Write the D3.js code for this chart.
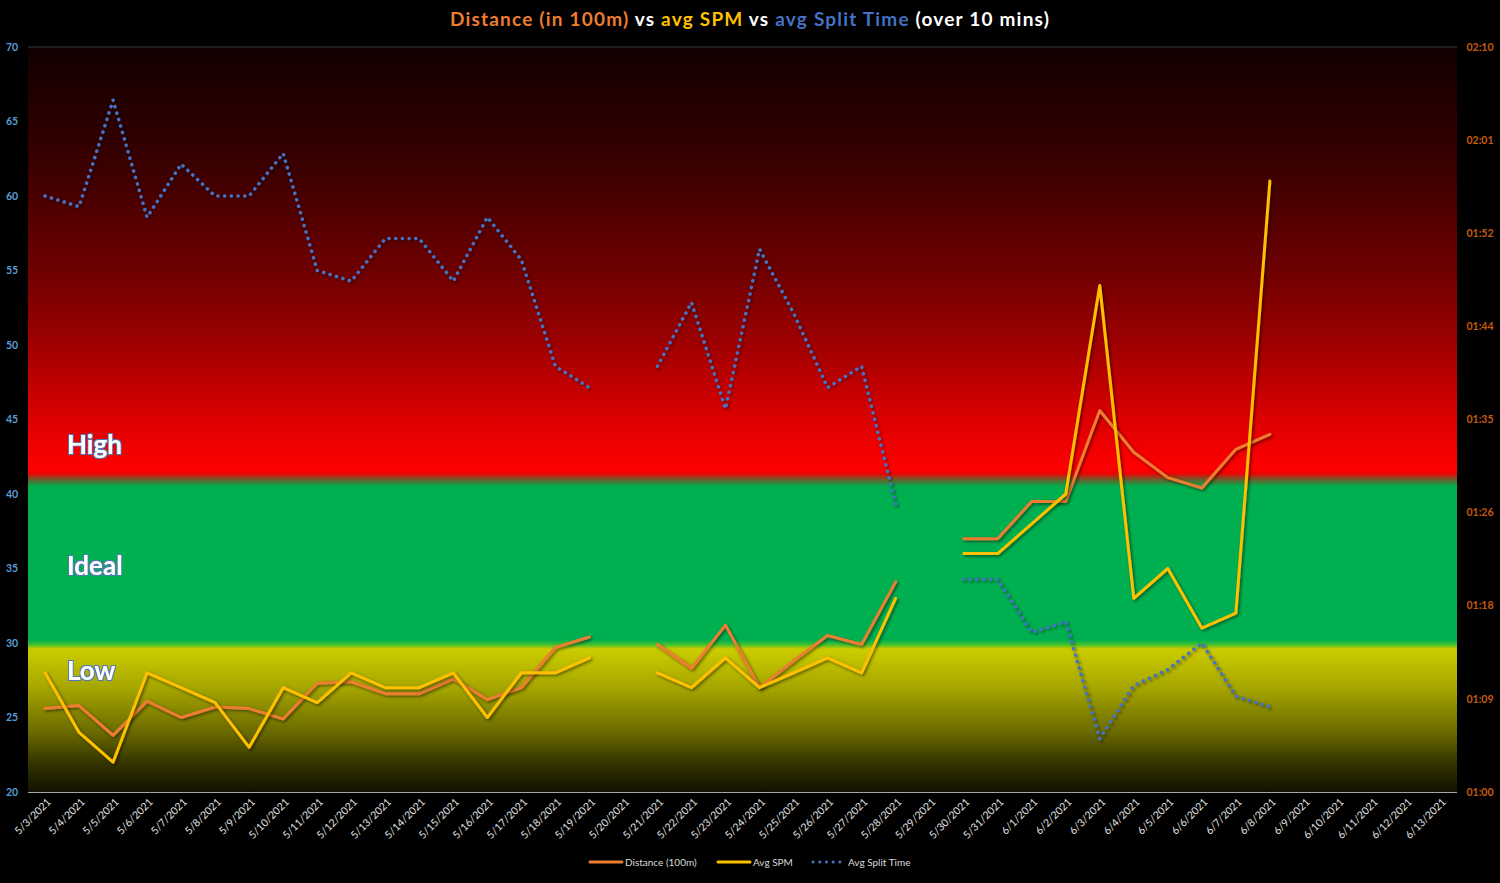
<!DOCTYPE html>
<html>
<head>
<meta charset="utf-8">
<script src="https://cdn.jsdelivr.net/npm/d3@7"></script>
<style>
  body { margin: 0; background: #000; }
  svg { display: block; font-family: Lato, "Open Sans", sans-serif; }
</style>
</head>
<body>
<div class="chart"></div>
<script>
// Categories (one per day)
const dates = ["5/3/2021","5/4/2021","5/5/2021","5/6/2021","5/7/2021","5/8/2021","5/9/2021","5/10/2021",
  "5/11/2021","5/12/2021","5/13/2021","5/14/2021","5/15/2021","5/16/2021","5/17/2021","5/18/2021",
  "5/19/2021","5/20/2021","5/21/2021","5/22/2021","5/23/2021","5/24/2021","5/25/2021","5/26/2021",
  "5/27/2021","5/28/2021","5/29/2021","5/30/2021","5/31/2021","6/1/2021","6/2/2021","6/3/2021",
  "6/4/2021","6/5/2021","6/6/2021","6/7/2021","6/8/2021","6/9/2021","6/10/2021","6/11/2021",
  "6/12/2021","6/13/2021"]

// Distance in 100m (left axis)
const distance = [25.6,25.8,23.8,26.1,25.0,25.7,25.6,24.9,27.3,27.4,26.6,26.6,27.6,26.2,27.0,29.7,
  30.4,null,29.9,28.3,31.2,27.0,28.8,30.5,29.9,34.1,null,37.0,37.0,39.5,39.5,45.6,
  42.8,41.1,40.4,43.0,44.0,null,null,null,null,null]

// Avg strokes per minute (left axis)
const spm = [28,24,22,28,27,26,23,27,26,28,27,27,28,25,28,28,
  29,null,28,27,29,27,28,29,28,33,null,36,36,38,40,54,
  33,35,31,32,61,null,null,null,null,null]

// Avg split time in seconds (right axis)
const split = [116,115,125,114,119,116,116,120,109,108,112,112,108,114,110,100,
  98,null,100,106,96,111,105,98,100,87,null,80,80,75,76,65,
  70,71.5,74,69,68,null,null,null,null,null]

const leftTicks = [20,25,30,35,40,45,50,55,60,65,70]
const rightTickLabels = ["01:00","01:09","01:18","01:26","01:35","01:44","01:52","02:01","02:10"]

// Zone labels and the left-axis value where they sit
const zoneNames = ["High","Ideal","Low"]
const zoneValues = [43.3,35.2,28.1]

const width = 1500
const height = 883
const margin = {top: 47, right: 43, bottom: 91, left: 28}

const svg = d3.select(".chart").append("svg")
  .attr("width", width)
  .attr("height", height)
  .attr("viewBox", [0, 0, width, height])

svg.append("rect").attr("width", width).attr("height", height).attr("fill", "#000")

// Scales
const x = d3.scaleBand()
  .domain(dates)
  .range([margin.left, width - margin.right])

const yL = d3.scaleLinear()
  .domain([20, 70])
  .range([height - margin.bottom, margin.top])

const yR = d3.scaleLinear()
  .domain([60, 130])
  .range([height - margin.bottom, margin.top])

const cx = d => x(d) + x.bandwidth() / 2

const defs = svg.append("defs")

// Background zones as a vertical gradient (in left-axis units)
const bgStops = [
  [70, "#110000"], [62, "#3a0000"], [55, "#6e0000"], [50, "#a00000"], [45, "#dc0000"],
  [41.7, "#ff0000"], [41.4, "#f20000"], [40.9, "#5a6a30"], [40.5, "#00b050"],
  [30.2, "#00b050"], [29.9, "#40c030"], [29.6, "#cccc00"], [27, "#a6a600"],
  [24, "#6a6a00"], [22, "#353500"], [20, "#121200"]
]
const grad = defs.append("linearGradient")
  .attr("id", "bg")
  .attr("gradientUnits", "userSpaceOnUse")
  .attr("x1", 0).attr("x2", 0)
  .attr("y1", yL(70)).attr("y2", yL(20))
grad.selectAll("stop")
  .data(bgStops)
  .join("stop")
  .attr("offset", d => (yL(d[0]) - yL(70)) / (yL(20) - yL(70)))
  .attr("stop-color", d => d[1])

// Drop shadow for lines
const shadow = defs.append("filter").attr("id", "shadow")
  .attr("x", "-5%").attr("y", "-5%").attr("width", "110%").attr("height", "110%")
shadow.append("feDropShadow")
  .attr("dx", 1.5).attr("dy", 1.5).attr("stdDeviation", 1.5)
  .attr("flood-color", "#000").attr("flood-opacity", 0.55)

// Glow for zone text
const glow = defs.append("filter").attr("id", "glow")
  .attr("x", "-20%").attr("y", "-30%").attr("width", "140%").attr("height", "160%")
glow.append("feMorphology").attr("in", "SourceAlpha").attr("operator", "dilate").attr("radius", 1.2).attr("result", "d")
glow.append("feFlood").attr("flood-color", "#4f78b8")
glow.append("feComposite").attr("in2", "d").attr("operator", "in").attr("result", "g")
glow.append("feGaussianBlur").attr("in", "g").attr("stdDeviation", 0.7).attr("result", "gb")
const merge = glow.append("feMerge")
merge.append("feMergeNode").attr("in", "gb")
merge.append("feMergeNode").attr("in", "SourceGraphic")

// Plot area
svg.append("rect")
  .attr("x", margin.left)
  .attr("y", margin.top)
  .attr("width", width - margin.left - margin.right)
  .attr("height", height - margin.top - margin.bottom)
  .attr("fill", "url(#bg)")

// Top gridline & bottom axis line
svg.append("line")
  .attr("x1", margin.left).attr("x2", width - margin.right)
  .attr("y1", yL(70)).attr("y2", yL(70))
  .attr("stroke", "#3a3a3a").attr("stroke-width", 1)
svg.append("line")
  .attr("x1", margin.left).attr("x2", width - margin.right)
  .attr("y1", yL(20) + 0.5).attr("y2", yL(20) + 0.5)
  .attr("stroke", "#a6a6a6").attr("stroke-width", 1)

// Left axis labels
svg.append("g")
  .selectAll("text")
  .data(leftTicks)
  .join("text")
  .attr("x", 12)
  .attr("y", d => yL(d))
  .attr("dy", "0.35em")
  .attr("text-anchor", "middle")
  .attr("fill", "#5b9bd5")
  .attr("font-size", 10.5)
  .attr("font-weight", "bold")
  .text(d => d)

// Right axis labels
const rightTicks = rightTickLabels.map((t, i) => 60 + i * 70 / 8)
svg.append("g")
  .selectAll("text")
  .data(rightTicks)
  .join("text")
  .attr("x", 1480)
  .attr("y", d => yR(d))
  .attr("dy", "0.35em")
  .attr("text-anchor", "middle")
  .attr("fill", "#c55a11")
  .attr("font-size", 10.5)
  .attr("font-weight", "bold")
  .text((d, i) => rightTickLabels[i])

// X axis labels
svg.append("g")
  .selectAll("text")
  .data(dates)
  .join("text")
  .attr("transform", d => `translate(${cx(d) + 4},${yL(20) + 8}) rotate(-45)`)
  .attr("text-anchor", "end")
  .attr("dy", "0.35em")
  .attr("fill", "#e0e0e0")
  .attr("font-size", 10.5)
  .text(d => d)

// Zone labels
svg.append("g")
  .selectAll("text")
  .data(zoneNames)
  .join("text")
  .attr("x", 67)
  .attr("y", (d, i) => yL(zoneValues[i]))
  .attr("dy", "0.35em")
  .attr("fill", "#fff")
  .attr("font-size", 26)
  .attr("font-weight", "bold")
  .attr("filter", "url(#glow)")
  .text(d => d)

// Lines
const lineL = d3.line()
  .defined(d => d.v != null)
  .x(d => cx(d.date))
  .y(d => yL(d.v))
const lineR = d3.line()
  .defined(d => d.v != null)
  .x(d => cx(d.date))
  .y(d => yR(d.v))

const toPts = arr => dates.map((date, i) => ({date, v: arr[i]}))

svg.append("path")
  .datum(toPts(split))
  .attr("d", lineR)
  .attr("fill", "none")
  .attr("stroke", "#4472c4")
  .attr("stroke-width", 3.5)
  .attr("stroke-linecap", "round")
  .attr("stroke-dasharray", "0.1 6.6")
  .attr("filter", "url(#shadow)")

svg.append("path")
  .datum(toPts(distance))
  .attr("d", lineL)
  .attr("fill", "none")
  .attr("stroke", "#ed7d31")
  .attr("stroke-width", 3)
  .attr("stroke-linejoin", "round")
  .attr("stroke-linecap", "round")
  .attr("filter", "url(#shadow)")

svg.append("path")
  .datum(toPts(spm))
  .attr("d", lineL)
  .attr("fill", "none")
  .attr("stroke", "#ffc000")
  .attr("stroke-width", 3)
  .attr("stroke-linejoin", "round")
  .attr("stroke-linecap", "round")
  .attr("filter", "url(#shadow)")

// Title
const title = svg.append("text")
  .attr("x", width / 2)
  .attr("y", 26)
  .attr("text-anchor", "middle")
  .attr("font-size", 19)
  .attr("font-weight", "bold")
  .attr("letter-spacing", 1.2)
const parts = [
  ["Distance (in 100m)", "#ed7d31"], [" vs ", "#ffffff"], ["avg SPM", "#ffc000"],
  [" vs ", "#ffffff"], ["avg Split Time", "#4472c4"], [" (over 10 mins)", "#ffffff"]
]
title.selectAll("tspan").data(parts).join("tspan")
  .attr("fill", d => d[1])
  .attr("xml:space", "preserve")
  .text(d => d[0])

// Legend
const legend = [
  {name: "Distance (100m)", color: "#ed7d31", dash: null, x: 590},
  {name: "Avg SPM", color: "#ffc000", dash: null, x: 718},
  {name: "Avg Split Time", color: "#4472c4", dash: "0.1 6.6", x: 813}
]
const lg = svg.append("g").selectAll("g").data(legend).join("g")
  .attr("transform", d => `translate(${d.x},862)`)
lg.append("line")
  .attr("x1", 0).attr("x2", 32)
  .attr("stroke", d => d.color)
  .attr("stroke-width", 3)
  .attr("stroke-linecap", "round")
  .attr("stroke-dasharray", d => d.dash)
lg.append("text")
  .attr("x", 35)
  .attr("dy", "0.35em")
  .attr("fill", "#d9d9d9")
  .attr("font-size", 10)
  .text(d => d.name)
</script>
</body>
</html>
